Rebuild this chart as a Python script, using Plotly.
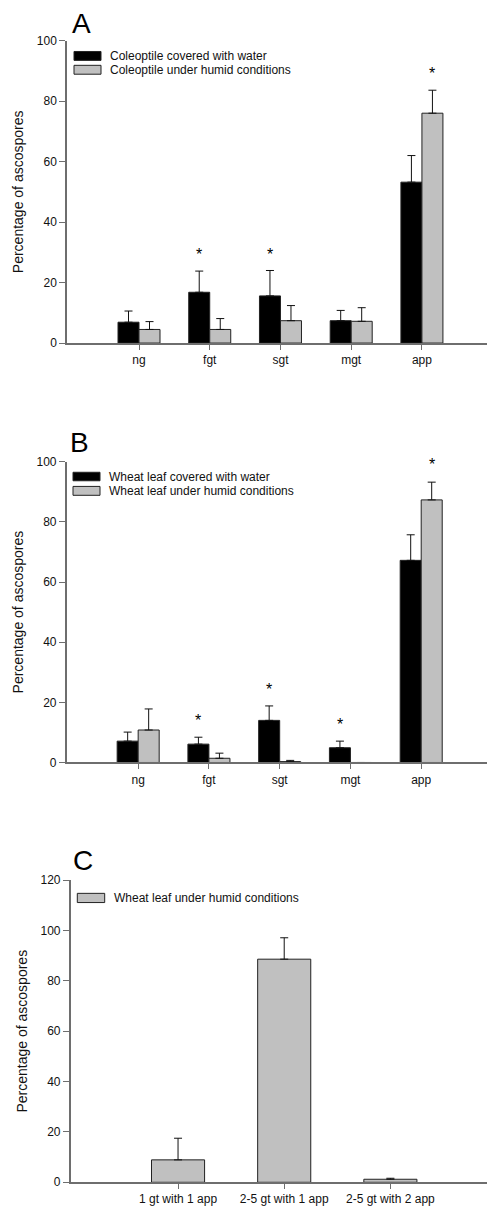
import plotly.graph_objects as go

W, H = 487, 1214

# Panel A: coleoptile
cats_ab = ["ng", "fgt", "sgt", "mgt", "app"]
a_water = [6.9, 16.8, 15.6, 7.4, 53.2]
a_water_err = [3.7, 7.0, 8.4, 3.4, 8.8]
a_humid = [4.5, 4.5, 7.4, 7.2, 76.0]
a_humid_err = [2.6, 3.6, 5.0, 4.5, 7.6]
a_star_cats = ["fgt", "sgt", "app"]
a_star_y = [29.4, 29.4, 89.2]
a_star_series = [0, 0, 1]

# Panel B: wheat leaf
b_water = [7.1, 6.1, 14.0, 4.9, 67.2]
b_water_err = [3.0, 2.3, 4.8, 2.2, 8.5]
b_humid = [10.8, 1.4, 0.3, 0.0, 87.3]
b_humid_err = [7.0, 1.7, 0.4, 0.0, 5.9]
b_star_cats = ["fgt", "sgt", "mgt", "app"]
b_star_y = [13.9, 24.2, 12.7, 99.2]
b_star_series = [0, 0, 0, 1]

# Panel C: germ tubes vs appressoria
cats_c = ["1 gt with 1 app", "2-5 gt with 1 app", "2-5 gt with 2 app"]
c_humid = [8.9, 88.6, 1.2]
c_humid_err = [8.6, 8.5, 0.4]

BLACK = "#000000"
GREY = "#c0c0c0"
EDGE = "#222222"
AXIS = "#6e6e6e"
FONT = "Liberation Sans, Arial, sans-serif"


def px_x(p):
    return p / W


def px_y(p):
    return 1 - p / H


fig = go.Figure()


def add_bar(name, x, y, err, color, xa, ya, width=None):
    fig.add_trace(go.Bar(
        name=name, x=x, y=y, xaxis=xa, yaxis=ya, width=width,
        marker=dict(color=color, line=dict(color=EDGE, width=1)),
        error_y=dict(type="data", array=err, arrayminus=[0] * len(err),
                     symmetric=False, color="#111111", thickness=1, width=4),
        showlegend=False,
    ))


add_bar("Coleoptile covered with water", cats_ab, a_water, a_water_err, BLACK, "x", "y")
add_bar("Coleoptile under humid conditions", cats_ab, a_humid, a_humid_err, GREY, "x", "y")
add_bar("Wheat leaf covered with water", cats_ab, b_water, b_water_err, BLACK, "x2", "y2")
add_bar("Wheat leaf under humid conditions", cats_ab, b_humid, b_humid_err, GREY, "x2", "y2")
add_bar("Wheat leaf under humid conditions", cats_c, c_humid, c_humid_err, GREY, "x3", "y3", width=0.5)

# panel geometry in pixels: (left, top, bottom)
panels = {
    "": dict(left=67, top=34, bottom=340, yr=[0, 100], xr=[-1.018, 4.92], dt=20),
    "2": dict(left=66.7, top=460, bottom=764.3, yr=[0, 100], xr=[-1.01, 4.93], dt=20),
    "3": dict(left=70.7, top=883.3, bottom=1189, yr=[0, 120], xr=[-1.011, 2.91], dt=20),
}

axis_common = dict(showline=True, linecolor=AXIS, linewidth=1.5, ticks="outside",
                   tickcolor=AXIS, ticklen=6, tickwidth=1,
                   tickfont=dict(family=FONT, size=12, color="#111111"),
                   showgrid=False, zeroline=False, fixedrange=True)

for sfx, p in panels.items():
    anc = "y" + sfx
    fig.update_layout({
        "xaxis" + sfx: dict(axis_common, domain=[px_x(p["left"]), 1],
                            range=p["xr"], anchor=anc, ticklen=5),
        "yaxis" + sfx: dict(axis_common, domain=[px_y(p["bottom"]), px_y(p["top"])],
                            range=p["yr"], dtick=p["dt"], anchor="x" + sfx,
                            title=dict(text="Percentage of ascospores", standoff=10,
                                       font=dict(family=FONT, size=14, color="#111111"))),
    })

# significance markers (asterisks above bars), offset to the bar of the series
offset = [-0.148, 0.148]
for cats, ys, ser, xa, ya in [(a_star_cats, a_star_y, a_star_series, "x", "y"),
                              (b_star_cats, b_star_y, b_star_series, "x2", "y2")]:
    for c, yv, s in zip(cats, ys, ser):
        fig.add_annotation(x=cats_ab.index(c) + offset[s], y=yv, xref=xa, yref=ya,
                           text="*", showarrow=False, yanchor="middle",
                           font=dict(family=FONT, size=16, color="#000000"))

# panel letters
for letter, x0, y0 in [("A", 70, 28), ("B", 68, 452), ("C", 71, 875)]:
    fig.add_annotation(x=px_x(x0), y=px_y(y0), xref="paper", yref="paper",
                       text=letter, showarrow=False, xanchor="left", yanchor="bottom",
                       yshift=-6, font=dict(family=FONT, size=28, color="#000000"))

# legends drawn as swatch + label
legend_rows = [
    (74, 101, 45, 54, BLACK, "Coleoptile covered with water"),
    (74, 101, 59, 68, GREY, "Coleoptile under humid conditions"),
    (73, 100, 470.7, 479.3, BLACK, "Wheat leaf covered with water"),
    (73, 100, 485, 494, GREY, "Wheat leaf under humid conditions"),
    (77.3, 104.7, 896.7, 906, GREY, "Wheat leaf under humid conditions"),
]
for x0, x1, y0, y1, col, label in legend_rows:
    fig.add_shape(type="rect", xref="paper", yref="paper",
                  x0=px_x(x0), x1=px_x(x1), y0=px_y(y1), y1=px_y(y0),
                  fillcolor=col, line=dict(color=EDGE, width=1))
    fig.add_annotation(x=px_x(x1 + 7), y=px_y((y0 + y1) / 2), xref="paper", yref="paper",
                       text=label, showarrow=False, xanchor="left", yanchor="middle",
                       font=dict(family=FONT, size=12, color="#111111"))

fig.update_layout(
    width=W, height=H,
    margin=dict(l=0, r=0, t=0, b=0),
    paper_bgcolor="white", plot_bgcolor="white",
    barmode="group", bargap=0.406, bargroupgap=0,
    showlegend=False,
    font=dict(family=FONT),
)

fig.write_html("out.html", config={"displayModeBar": False})
